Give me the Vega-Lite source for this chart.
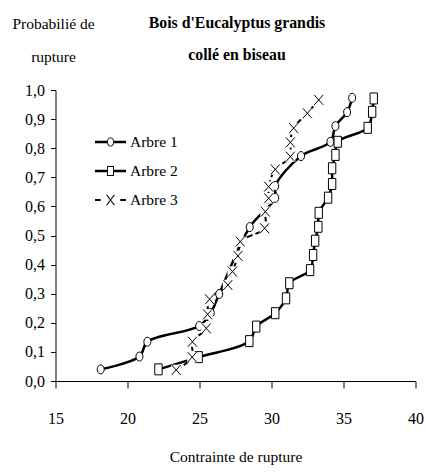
{
  "$schema": "https://vega.github.io/schema/vega-lite/v6.json",
  "width": 360,
  "height": 291,
  "autosize": {"type": "none"},
  "padding": {"left": 55.5, "top": 90, "right": 10.5, "bottom": 91},
  "background": "white",
  "config": {
    "view": {"stroke": null},
    "font": "Liberation Serif, Times New Roman, serif",
    "axis": {
      "grid": false,
      "domainColor": "black",
      "tickColor": "black",
      "labelColor": "black",
      "titleColor": "black",
      "labelFont": "Liberation Serif, Times New Roman, serif",
      "titleFont": "Liberation Serif, Times New Roman, serif",
      "labelFontSize": 16,
      "titleFontSize": 15.5,
      "titleFontWeight": "normal",
      "labelFlush": false
    }
  },
  "title": {
    "text": ["Bois d'Eucalyptus grandis", "collé en biseau"],
    "font": "Liberation Serif, Times New Roman, serif",
    "fontSize": 15.8,
    "fontWeight": "bold",
    "color": "black",
    "anchor": "middle",
    "frame": "group",
    "orient": "top",
    "baseline": "alphabetic",
    "lineHeight": 32,
    "offset": -59.5,
    "dx": 1.5
  },
  "data": {
    "values": [
      {"series": "Arbre 1", "contrainte": 18.14, "probabilite": 0.040},
      {"series": "Arbre 1", "contrainte": 20.83, "probabilite": 0.084},
      {"series": "Arbre 1", "contrainte": 21.38, "probabilite": 0.135},
      {"series": "Arbre 1", "contrainte": 24.98, "probabilite": 0.189},
      {"series": "Arbre 1", "contrainte": 25.78, "probabilite": 0.234},
      {"series": "Arbre 1", "contrainte": 26.37, "probabilite": 0.299},
      {"series": "Arbre 1", "contrainte": 28.49, "probabilite": 0.529},
      {"series": "Arbre 1", "contrainte": 30.26, "probabilite": 0.629},
      {"series": "Arbre 1", "contrainte": 30.26, "probabilite": 0.670},
      {"series": "Arbre 1", "contrainte": 32.05, "probabilite": 0.773},
      {"series": "Arbre 1", "contrainte": 34.09, "probabilite": 0.822},
      {"series": "Arbre 1", "contrainte": 34.44, "probabilite": 0.876},
      {"series": "Arbre 1", "contrainte": 35.25, "probabilite": 0.924},
      {"series": "Arbre 1", "contrainte": 35.60, "probabilite": 0.973},
      {"series": "Arbre 2", "contrainte": 22.15, "probabilite": 0.040},
      {"series": "Arbre 2", "contrainte": 24.94, "probabilite": 0.082},
      {"series": "Arbre 2", "contrainte": 28.46, "probabilite": 0.137},
      {"series": "Arbre 2", "contrainte": 28.94, "probabilite": 0.187},
      {"series": "Arbre 2", "contrainte": 30.26, "probabilite": 0.233},
      {"series": "Arbre 2", "contrainte": 31.01, "probabilite": 0.284},
      {"series": "Arbre 2", "contrainte": 31.24, "probabilite": 0.336},
      {"series": "Arbre 2", "contrainte": 32.68, "probabilite": 0.381},
      {"series": "Arbre 2", "contrainte": 32.89, "probabilite": 0.433},
      {"series": "Arbre 2", "contrainte": 33.03, "probabilite": 0.482},
      {"series": "Arbre 2", "contrainte": 33.25, "probabilite": 0.530},
      {"series": "Arbre 2", "contrainte": 33.28, "probabilite": 0.578},
      {"series": "Arbre 2", "contrainte": 33.93, "probabilite": 0.630},
      {"series": "Arbre 2", "contrainte": 34.21, "probabilite": 0.677},
      {"series": "Arbre 2", "contrainte": 34.21, "probabilite": 0.731},
      {"series": "Arbre 2", "contrainte": 34.44, "probabilite": 0.777},
      {"series": "Arbre 2", "contrainte": 34.60, "probabilite": 0.822},
      {"series": "Arbre 2", "contrainte": 36.68, "probabilite": 0.870},
      {"series": "Arbre 2", "contrainte": 36.99, "probabilite": 0.925},
      {"series": "Arbre 2", "contrainte": 37.10, "probabilite": 0.971},
      {"series": "Arbre 3", "contrainte": 23.38, "probabilite": 0.038},
      {"series": "Arbre 3", "contrainte": 24.49, "probabilite": 0.082},
      {"series": "Arbre 3", "contrainte": 24.51, "probabilite": 0.135},
      {"series": "Arbre 3", "contrainte": 25.47, "probabilite": 0.181},
      {"series": "Arbre 3", "contrainte": 25.56, "probabilite": 0.229},
      {"series": "Arbre 3", "contrainte": 25.70, "probabilite": 0.281},
      {"series": "Arbre 3", "contrainte": 26.97, "probabilite": 0.330},
      {"series": "Arbre 3", "contrainte": 27.29, "probabilite": 0.376},
      {"series": "Arbre 3", "contrainte": 27.67, "probabilite": 0.430},
      {"series": "Arbre 3", "contrainte": 27.83, "probabilite": 0.479},
      {"series": "Arbre 3", "contrainte": 29.52, "probabilite": 0.525},
      {"series": "Arbre 3", "contrainte": 29.57, "probabilite": 0.582},
      {"series": "Arbre 3", "contrainte": 29.80, "probabilite": 0.628},
      {"series": "Arbre 3", "contrainte": 29.80, "probabilite": 0.668},
      {"series": "Arbre 3", "contrainte": 30.26, "probabilite": 0.727},
      {"series": "Arbre 3", "contrainte": 31.31, "probabilite": 0.771},
      {"series": "Arbre 3", "contrainte": 31.31, "probabilite": 0.820},
      {"series": "Arbre 3", "contrainte": 31.54, "probabilite": 0.869},
      {"series": "Arbre 3", "contrainte": 32.49, "probabilite": 0.920},
      {"series": "Arbre 3", "contrainte": 33.28, "probabilite": 0.966}
    ]
  },
  "encoding": {
    "x": {
      "field": "contrainte",
      "type": "quantitative",
      "scale": {"domain": [15, 40], "nice": false, "zero": false},
      "axis": {
        "values": [15, 20, 25, 30, 35, 40],
        "tickSize": 7,
        "labelPadding": 35.5,
        "labelBaseline": "alphabetic",
        "title": "Contrainte de rupture",
        "titleY": 80,
        "titleBaseline": "alphabetic"
      }
    },
    "y": {
      "field": "probabilite",
      "type": "quantitative",
      "scale": {"domain": [0, 1], "nice": false},
      "axis": {
        "values": [0, 0.1, 0.2, 0.3, 0.4, 0.5, 0.6, 0.7, 0.8, 0.9, 1],
        "tickSize": 5,
        "labelPadding": 6,
        "labelExpr": "replace(format(datum.value, '.1f'), '.', ',')",
        "title": ["Probabilié de", "rupture"],
        "titleAngle": 0,
        "titleX": -2.5,
        "titleY": -62,
        "titleAlign": "center",
        "titleBaseline": "alphabetic",
        "titleLineHeight": 33
      }
    }
  },
  "layer": [
    {
      "transform": [{"filter": "datum.series !== 'Arbre 3'"}],
      "mark": {"type": "line", "interpolate": "catmull-rom", "color": "black", "strokeWidth": 2.5},
      "encoding": {
        "detail": {"field": "series", "type": "nominal"},
        "order": {"field": "probabilite", "type": "quantitative"}
      }
    },
    {
      "transform": [{"filter": "datum.series === 'Arbre 3'"}],
      "mark": {"type": "line", "interpolate": "catmull-rom", "color": "black", "strokeWidth": 2, "strokeDash": [6, 3]},
      "encoding": {
        "order": {"field": "probabilite", "type": "quantitative"}
      }
    },
    {
      "transform": [{"filter": "datum.series === 'Arbre 1'"}],
      "mark": {"type": "point", "shape": "M0.78,0 A0.78,1 0 1 1 -0.78,0 A0.78,1 0 1 1 0.78,0 Z", "size": 81, "filled": true, "fill": "white", "stroke": "black", "strokeWidth": 1, "opacity": 1}
    },
    {
      "transform": [{"filter": "datum.series === 'Arbre 2'"}],
      "mark": {"type": "point", "shape": "M-0.67,-1 L0.67,-1 L0.67,1 L-0.67,1 Z", "size": 121, "filled": true, "fill": "white", "stroke": "black", "strokeWidth": 1, "opacity": 1}
    },
    {
      "transform": [{"filter": "datum.series === 'Arbre 3'"}],
      "mark": {"type": "point", "shape": "M-1,-1.05 L1,-1.05 L1,1.05 L-1,1.05 Z", "size": 100, "filled": true, "fill": "white", "strokeWidth": 0, "opacity": 1}
    },
    {
      "transform": [{"filter": "datum.series === 'Arbre 3'"}],
      "mark": {"type": "point", "shape": "M-0.9,-1 L0.9,1 M-0.9,1 L0.9,-1", "size": 100, "filled": false, "stroke": "black", "strokeWidth": 1, "opacity": 1}
    },
    {
      "transform": [{"filter": "false"}],
      "mark": {"type": "point", "filled": true, "color": "black", "strokeWidth": 0, "size": 625, "opacity": 1},
      "encoding": {
        "shape": {
          "field": "series",
          "type": "nominal",
          "scale": {
            "domain": ["Arbre 1", "Arbre 2", "Arbre 3"],
            "range": [
              "M-1.24,-0.096 L-0.288,-0.096 L-0.288,0.096 L-1.24,0.096 Z M0.288,-0.096 L1.24,-0.096 L1.24,0.096 L0.288,0.096 Z M0.288,0 A0.288,0.368 0 1 1 -0.288,0 A0.288,0.368 0 1 1 0.288,0 Z M0.216,0 A0.216,0.296 0 1 0 -0.216,0 A0.216,0.296 0 1 0 0.216,0 Z",
              "M-1.24,-0.096 L-0.28,-0.096 L-0.28,0.096 L-1.24,0.096 Z M0.28,-0.096 L1.24,-0.096 L1.24,0.096 L0.28,0.096 Z M-0.28,-0.4 L0.28,-0.4 L0.28,0.4 L-0.28,0.4 Z M-0.208,-0.328 L-0.208,0.328 L0.208,0.328 L0.208,-0.328 Z",
              "M-1.24,-0.08 L-0.784,-0.08 L-0.784,0.08 L-1.24,0.08 Z M0.784,-0.08 L1.24,-0.08 L1.24,0.08 L0.784,0.08 Z M-0.36,-0.424 L-0.256,-0.424 L0.36,0.424 L0.256,0.424 Z M0.256,-0.424 L0.36,-0.424 L-0.256,0.424 L-0.36,0.424 Z"
            ]
          },
          "legend": {
            "orient": "none",
            "legendX": 42.5,
            "legendY": 39.5,
            "title": null,
            "padding": 0,
            "rowPadding": 8,
            "labelOffset": 7,
            "labelFont": "Liberation Serif, Times New Roman, serif",
            "labelFontSize": 15.5,
            "labelColor": "black",
            "labelLimit": 200,
            "symbolSize": 625,
            "symbolFillColor": "black",
            "symbolStrokeColor": "black",
            "symbolStrokeWidth": 0,
            "symbolOpacity": 1
          }
        }
      }
    }
  ]
}
